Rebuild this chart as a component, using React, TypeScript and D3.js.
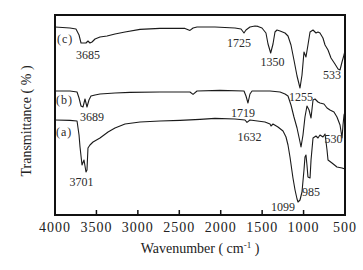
import React from "react";
import * as d3 from "d3";

// Wavenumber (cm-1) vs transmittance (arbitrary %, curves offset)
const curveC: [number, number][] = [
  [4000, 94], [3819, 93.5], [3747, 93], [3710, 90], [3686, 86], [3626, 86], [3602, 87],
  [3578, 86], [3553, 86.5], [3517, 88], [3457, 89], [3372, 89.5], [3276, 90.5], [3155, 91.5],
  [2974, 92.8], [2733, 93.3], [2431, 93.3], [2371, 92.3], [2334, 93.5], [2286, 94], [2069, 94],
  [1828, 93.5], [1755, 93], [1719, 91], [1695, 92.5], [1647, 94], [1586, 94.5], [1550, 94.3],
  [1502, 93.5], [1454, 91], [1429, 85.5], [1397, 81], [1369, 85.5], [1345, 91.5], [1321, 92.5],
  [1284, 92], [1224, 91], [1188, 89.5], [1152, 85], [1116, 77.5], [1079, 69.5], [1043, 63.5],
  [1019, 70], [995, 81.5], [971, 79], [947, 85], [922, 91.5], [886, 92.5], [850, 91], [826, 91.5],
  [802, 91], [766, 88.5], [741, 85], [705, 82.5], [669, 78.5], [621, 75.5], [584, 73], [560, 72.5],
  [536, 76.5], [512, 80], [500, 82.5],
];

const curveB: [number, number][] = [
  [4000, 62], [3819, 62], [3734, 61.5], [3710, 58.5], [3686, 54.5], [3662, 54], [3638, 58],
  [3614, 54], [3590, 57.5], [3566, 59.5], [3517, 60], [3457, 60.5], [3276, 61], [3095, 61.3],
  [2733, 61.5], [2371, 61.5], [2334, 60.3], [2286, 62], [2009, 62.3], [1719, 62], [1695, 59.5],
  [1671, 56], [1647, 60.5], [1622, 62], [1405, 62], [1284, 61.5], [1224, 60.5], [1188, 59.5],
  [1152, 55], [1116, 49], [1079, 43.5], [1043, 36.5], [1031, 34], [1007, 40], [983, 49],
  [959, 54.5], [934, 52.5], [910, 48.5], [886, 57.5], [862, 58], [826, 56.5], [802, 56],
  [754, 55.5], [717, 53.5], [681, 52.5], [633, 51.5], [597, 49], [560, 45], [536, 38.5],
  [524, 45], [512, 50], [500, 51.5],
];

const curveA: [number, number][] = [
  [4000, 47.5], [3819, 47.3], [3734, 47], [3710, 40], [3698, 34], [3674, 25], [3650, 27.5],
  [3626, 21.5], [3614, 22.5], [3602, 33.5], [3578, 35], [3541, 36.5], [3457, 38.5], [3360, 41.5],
  [3276, 43.5], [3155, 45.5], [2974, 46.5], [2733, 47], [2491, 47.3], [2250, 47.8], [2069, 48.3],
  [1828, 48], [1707, 47.5], [1683, 46.3], [1647, 47.5], [1466, 46.5], [1405, 45.5], [1393, 44.5],
  [1369, 45.5], [1309, 44], [1248, 42], [1212, 39], [1188, 35], [1164, 29], [1128, 18.5],
  [1103, 12.5], [1079, 8], [1067, 6.5], [1043, 7.5], [1019, 11.5], [995, 22.5], [983, 29],
  [971, 30], [959, 25], [947, 19], [922, 18.5], [910, 27.5], [886, 38.5], [850, 39.5],
  [826, 38.5], [802, 40], [766, 39], [741, 40.5], [717, 32.5], [705, 27.5], [657, 26],
  [597, 24], [536, 23.5], [500, 23],
];

const xTicks = [4000, 3500, 3000, 2500, 2000, 1500, 1000, 500];

const peakLabels = ["(c)", "3685", "1725", "1350", "533", "1255", "(b)", "3689", "1719", "(a)", "1632", "530", "3701", "1099", "985"];
const peakLabelW = [3976, 3602, 1779, 1375, 657, 1031, 3988, 3553, 1731, 3988, 1653, 639, 3680, 1248, 910];
const peakLabelT = [86, 78, 84, 74.5, 68, 57, 55.5, 47, 49, 39.5, 37, 36, 14.5, 2, 9.5];

const W = 363;
const H = 270;
const M = { left: 55, right: 345, top: 15, bottom: 215 };

export default function App() {
  const x = d3.scaleLinear().domain([4000, 500]).range([M.left, M.right]);
  const y = d3.scaleLinear().domain([0, 100]).range([M.bottom, M.top]);
  const line = d3
    .line<[number, number]>()
    .x((d) => x(d[0]))
    .y((d) => y(d[1]))
    .curve(d3.curveLinear);

  const font = '"Liberation Serif", "DejaVu Serif", "Times New Roman", serif';
  const curves = [curveC, curveB, curveA];

  return (
    <svg
      width={W}
      height={H}
      style={{ position: "absolute", left: 0, top: 0, background: "#fff", fontFamily: font }}
    >
      <rect x={0} y={0} width={W} height={H} fill="#fff" />
      {curves.map((c, i) => (
        <path key={i} d={line(c) || ""} fill="none" stroke="#1a1a1a" strokeWidth={1.1} strokeLinejoin="round" />
      ))}
      {peakLabels.map((t, i) => {
        const isName = t.startsWith("(");
        return (
          <text
            key={t + i}
            x={x(peakLabelW[i])}
            y={y(peakLabelT[i])}
            fontSize={12}
            fill="#2a2a2a"
            textAnchor={isName ? "start" : "middle"}
            letterSpacing={isName ? 1 : 0}
            style={{ fontFamily: font }}
          >
            {t}
          </text>
        );
      })}
      <rect
        x={M.left}
        y={M.top}
        width={M.right - M.left}
        height={M.bottom - M.top}
        fill="none"
        stroke="#111"
        strokeWidth={2}
      />
      {xTicks.map((t) => (
        <g key={t}>
          <line x1={x(t)} x2={x(t)} y1={M.bottom} y2={M.bottom - 5} stroke="#111" strokeWidth={1.5} />
          <text
            x={x(t)}
            y={232}
            fontSize={14}
            textAnchor="middle"
            letterSpacing={1}
            fill="#222"
            style={{ fontFamily: font }}
          >
            {t}
          </text>
        </g>
      ))}
      <text x={200} y={253} fontSize={14} textAnchor="middle" fill="#222" style={{ fontFamily: font }}>
        Wavenumber ( cm
        <tspan fontSize={9} dy={-5}>-1</tspan>
        <tspan dy={5}> )</tspan>
      </text>
      <text
        transform={`translate(31,121) rotate(-90)`}
        fontSize={14}
        textAnchor="middle"
        fill="#222"
        style={{ fontFamily: font }}
      >
        Transmittance ( % )
      </text>
    </svg>
  );
}
